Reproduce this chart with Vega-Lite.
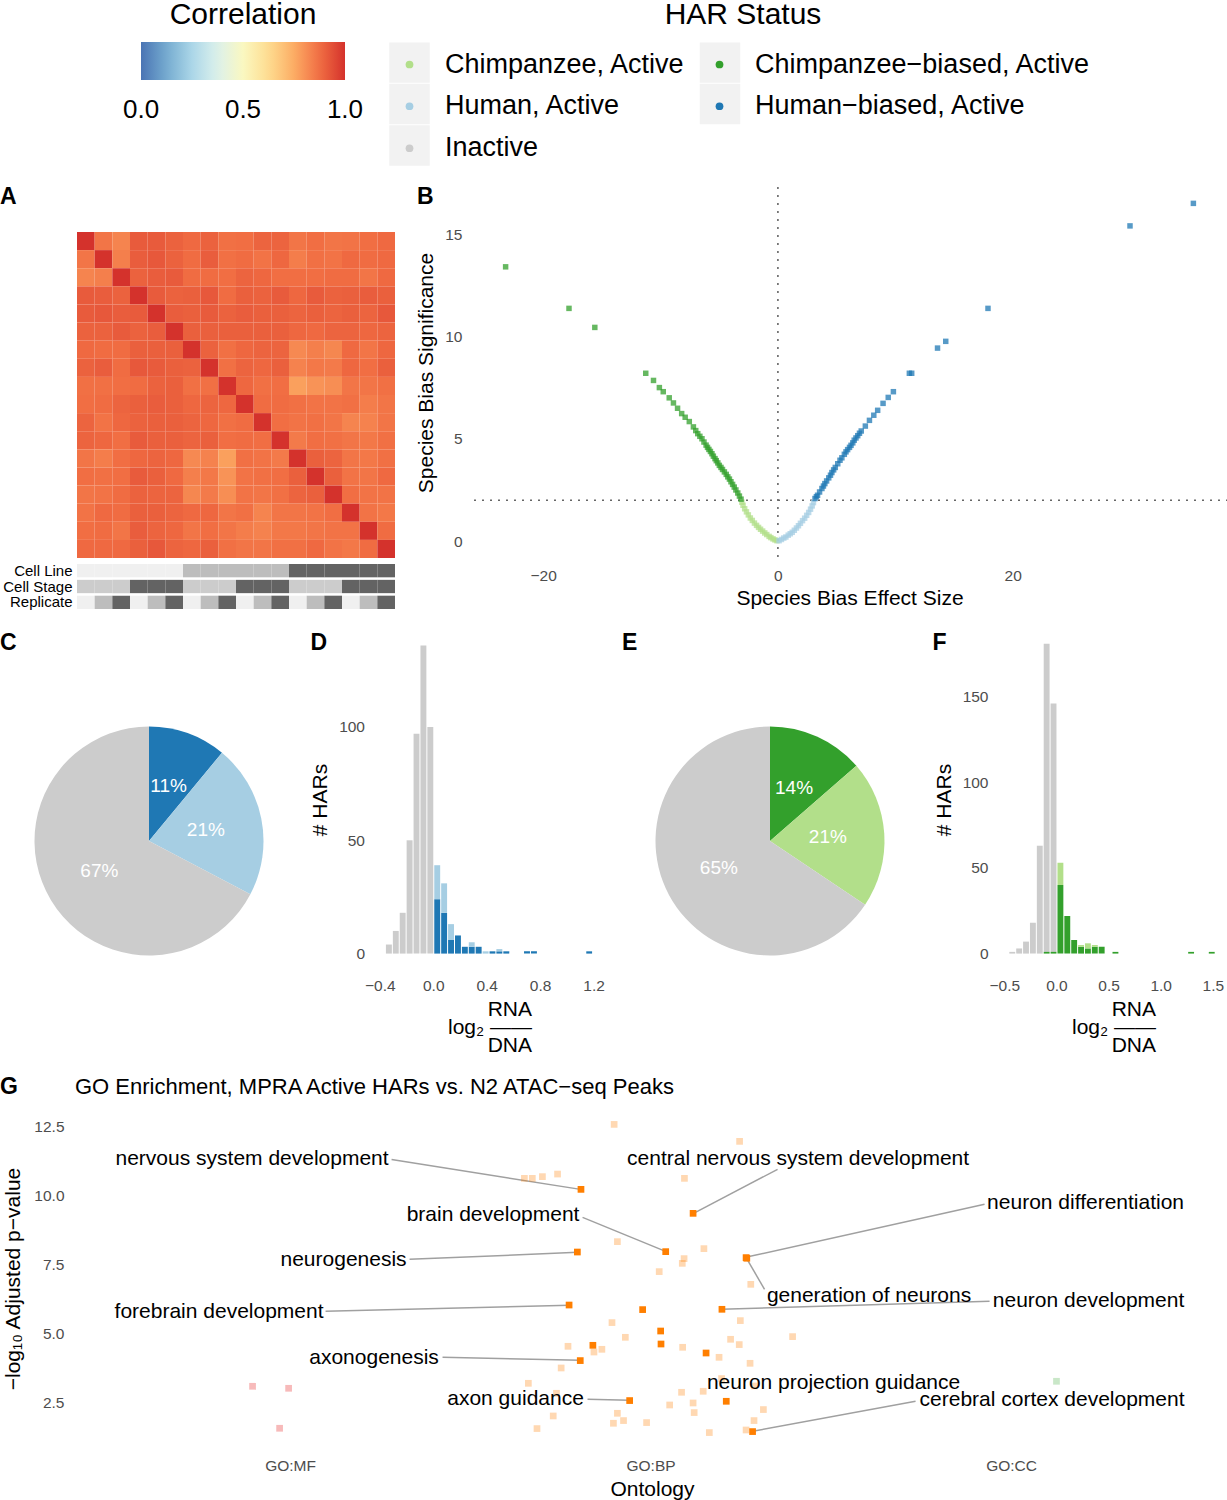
{
"$schema":"https://vega.github.io/schema/vega-lite/v6.json",
"padding":0,
"background":"white",
"spacing":20,
"config":{
 "view":{"stroke":null},
 "font":"Liberation Sans",
 "axis":{"grid":false,"domain":false,"ticks":false,"labelColor":"#4d4d4d","labelFontSize":15.5,"titleFontSize":21,"titleFontWeight":"normal","titleColor":"#000000"},
 "title":{"anchor":"start","frame":"group","offset":0,"fontSize":23,"fontWeight":"bold","color":"#000000"}
},
"resolve":{"scale":{"x":"independent","y":"independent","color":"independent","fill":"independent","opacity":"independent","theta":"independent"},"legend":{"color":"independent","fill":"independent"}},
"datasets":{
 "corr":[
{"r":0,"c":0,"v":1},{"r":0,"c":1,"v":0.86},{"r":0,"c":2,"v":0.83},{"r":0,"c":3,"v":0.915},{"r":0,"c":4,"v":0.915},{"r":0,"c":5,"v":0.9},{"r":0,"c":6,"v":0.885},{"r":0,"c":7,"v":0.9},{"r":0,"c":8,"v":0.87},{"r":0,"c":9,"v":0.875},{"r":0,"c":10,"v":0.895},{"r":0,"c":11,"v":0.895},{"r":0,"c":12,"v":0.86},{"r":0,"c":13,"v":0.875},{"r":0,"c":14,"v":0.86},{"r":0,"c":15,"v":0.865},{"r":0,"c":16,"v":0.875},{"r":0,"c":17,"v":0.885},
{"r":1,"c":0,"v":0.86},{"r":1,"c":1,"v":1},{"r":1,"c":2,"v":0.84},{"r":1,"c":3,"v":0.91},{"r":1,"c":4,"v":0.92},{"r":1,"c":5,"v":0.9},{"r":1,"c":6,"v":0.88},{"r":1,"c":7,"v":0.91},{"r":1,"c":8,"v":0.87},{"r":1,"c":9,"v":0.88},{"r":1,"c":10,"v":0.865},{"r":1,"c":11,"v":0.89},{"r":1,"c":12,"v":0.845},{"r":1,"c":13,"v":0.87},{"r":1,"c":14,"v":0.865},{"r":1,"c":15,"v":0.885},{"r":1,"c":16,"v":0.88},{"r":1,"c":17,"v":0.885},
{"r":2,"c":0,"v":0.83},{"r":2,"c":1,"v":0.84},{"r":2,"c":2,"v":1},{"r":2,"c":3,"v":0.9},{"r":2,"c":4,"v":0.91},{"r":2,"c":5,"v":0.915},{"r":2,"c":6,"v":0.88},{"r":2,"c":7,"v":0.88},{"r":2,"c":8,"v":0.875},{"r":2,"c":9,"v":0.895},{"r":2,"c":10,"v":0.89},{"r":2,"c":11,"v":0.875},{"r":2,"c":12,"v":0.875},{"r":2,"c":13,"v":0.875},{"r":2,"c":14,"v":0.88},{"r":2,"c":15,"v":0.88},{"r":2,"c":16,"v":0.86},{"r":2,"c":17,"v":0.885},
{"r":3,"c":0,"v":0.915},{"r":3,"c":1,"v":0.91},{"r":3,"c":2,"v":0.9},{"r":3,"c":3,"v":1},{"r":3,"c":4,"v":0.915},{"r":3,"c":5,"v":0.9},{"r":3,"c":6,"v":0.905},{"r":3,"c":7,"v":0.92},{"r":3,"c":8,"v":0.88},{"r":3,"c":9,"v":0.905},{"r":3,"c":10,"v":0.9},{"r":3,"c":11,"v":0.915},{"r":3,"c":12,"v":0.89},{"r":3,"c":13,"v":0.915},{"r":3,"c":14,"v":0.9},{"r":3,"c":15,"v":0.905},{"r":3,"c":16,"v":0.91},{"r":3,"c":17,"v":0.905},
{"r":4,"c":0,"v":0.915},{"r":4,"c":1,"v":0.92},{"r":4,"c":2,"v":0.91},{"r":4,"c":3,"v":0.915},{"r":4,"c":4,"v":1},{"r":4,"c":5,"v":0.91},{"r":4,"c":6,"v":0.905},{"r":4,"c":7,"v":0.915},{"r":4,"c":8,"v":0.9},{"r":4,"c":9,"v":0.91},{"r":4,"c":10,"v":0.905},{"r":4,"c":11,"v":0.905},{"r":4,"c":12,"v":0.895},{"r":4,"c":13,"v":0.905},{"r":4,"c":14,"v":0.895},{"r":4,"c":15,"v":0.905},{"r":4,"c":16,"v":0.895},{"r":4,"c":17,"v":0.92},
{"r":5,"c":0,"v":0.9},{"r":5,"c":1,"v":0.9},{"r":5,"c":2,"v":0.915},{"r":5,"c":3,"v":0.9},{"r":5,"c":4,"v":0.91},{"r":5,"c":5,"v":1},{"r":5,"c":6,"v":0.905},{"r":5,"c":7,"v":0.905},{"r":5,"c":8,"v":0.905},{"r":5,"c":9,"v":0.905},{"r":5,"c":10,"v":0.905},{"r":5,"c":11,"v":0.905},{"r":5,"c":12,"v":0.89},{"r":5,"c":13,"v":0.885},{"r":5,"c":14,"v":0.895},{"r":5,"c":15,"v":0.895},{"r":5,"c":16,"v":0.89},{"r":5,"c":17,"v":0.895},
{"r":6,"c":0,"v":0.885},{"r":6,"c":1,"v":0.88},{"r":6,"c":2,"v":0.88},{"r":6,"c":3,"v":0.905},{"r":6,"c":4,"v":0.905},{"r":6,"c":5,"v":0.905},{"r":6,"c":6,"v":1},{"r":6,"c":7,"v":0.9},{"r":6,"c":8,"v":0.87},{"r":6,"c":9,"v":0.89},{"r":6,"c":10,"v":0.895},{"r":6,"c":11,"v":0.895},{"r":6,"c":12,"v":0.82},{"r":6,"c":13,"v":0.84},{"r":6,"c":14,"v":0.825},{"r":6,"c":15,"v":0.885},{"r":6,"c":16,"v":0.86},{"r":6,"c":17,"v":0.89},
{"r":7,"c":0,"v":0.9},{"r":7,"c":1,"v":0.91},{"r":7,"c":2,"v":0.88},{"r":7,"c":3,"v":0.92},{"r":7,"c":4,"v":0.915},{"r":7,"c":5,"v":0.905},{"r":7,"c":6,"v":0.9},{"r":7,"c":7,"v":1},{"r":7,"c":8,"v":0.87},{"r":7,"c":9,"v":0.895},{"r":7,"c":10,"v":0.89},{"r":7,"c":11,"v":0.905},{"r":7,"c":12,"v":0.835},{"r":7,"c":13,"v":0.855},{"r":7,"c":14,"v":0.85},{"r":7,"c":15,"v":0.89},{"r":7,"c":16,"v":0.875},{"r":7,"c":17,"v":0.905},
{"r":8,"c":0,"v":0.87},{"r":8,"c":1,"v":0.87},{"r":8,"c":2,"v":0.875},{"r":8,"c":3,"v":0.88},{"r":8,"c":4,"v":0.9},{"r":8,"c":5,"v":0.905},{"r":8,"c":6,"v":0.87},{"r":8,"c":7,"v":0.87},{"r":8,"c":8,"v":1},{"r":8,"c":9,"v":0.89},{"r":8,"c":10,"v":0.87},{"r":8,"c":11,"v":0.875},{"r":8,"c":12,"v":0.775},{"r":8,"c":13,"v":0.8},{"r":8,"c":14,"v":0.81},{"r":8,"c":15,"v":0.86},{"r":8,"c":16,"v":0.86},{"r":8,"c":17,"v":0.87},
{"r":9,"c":0,"v":0.875},{"r":9,"c":1,"v":0.88},{"r":9,"c":2,"v":0.895},{"r":9,"c":3,"v":0.905},{"r":9,"c":4,"v":0.91},{"r":9,"c":5,"v":0.905},{"r":9,"c":6,"v":0.89},{"r":9,"c":7,"v":0.895},{"r":9,"c":8,"v":0.89},{"r":9,"c":9,"v":1},{"r":9,"c":10,"v":0.88},{"r":9,"c":11,"v":0.88},{"r":9,"c":12,"v":0.87},{"r":9,"c":13,"v":0.865},{"r":9,"c":14,"v":0.865},{"r":9,"c":15,"v":0.87},{"r":9,"c":16,"v":0.845},{"r":9,"c":17,"v":0.86},
{"r":10,"c":0,"v":0.895},{"r":10,"c":1,"v":0.865},{"r":10,"c":2,"v":0.89},{"r":10,"c":3,"v":0.9},{"r":10,"c":4,"v":0.905},{"r":10,"c":5,"v":0.905},{"r":10,"c":6,"v":0.895},{"r":10,"c":7,"v":0.89},{"r":10,"c":8,"v":0.87},{"r":10,"c":9,"v":0.88},{"r":10,"c":10,"v":1},{"r":10,"c":11,"v":0.875},{"r":10,"c":12,"v":0.865},{"r":10,"c":13,"v":0.87},{"r":10,"c":14,"v":0.86},{"r":10,"c":15,"v":0.83},{"r":10,"c":16,"v":0.835},{"r":10,"c":17,"v":0.86},
{"r":11,"c":0,"v":0.895},{"r":11,"c":1,"v":0.89},{"r":11,"c":2,"v":0.875},{"r":11,"c":3,"v":0.915},{"r":11,"c":4,"v":0.905},{"r":11,"c":5,"v":0.905},{"r":11,"c":6,"v":0.895},{"r":11,"c":7,"v":0.905},{"r":11,"c":8,"v":0.875},{"r":11,"c":9,"v":0.88},{"r":11,"c":10,"v":0.875},{"r":11,"c":11,"v":1},{"r":11,"c":12,"v":0.85},{"r":11,"c":13,"v":0.875},{"r":11,"c":14,"v":0.87},{"r":11,"c":15,"v":0.86},{"r":11,"c":16,"v":0.855},{"r":11,"c":17,"v":0.87},
{"r":12,"c":0,"v":0.86},{"r":12,"c":1,"v":0.845},{"r":12,"c":2,"v":0.875},{"r":12,"c":3,"v":0.89},{"r":12,"c":4,"v":0.895},{"r":12,"c":5,"v":0.89},{"r":12,"c":6,"v":0.82},{"r":12,"c":7,"v":0.835},{"r":12,"c":8,"v":0.775},{"r":12,"c":9,"v":0.87},{"r":12,"c":10,"v":0.865},{"r":12,"c":11,"v":0.85},{"r":12,"c":12,"v":1},{"r":12,"c":13,"v":0.905},{"r":12,"c":14,"v":0.895},{"r":12,"c":15,"v":0.86},{"r":12,"c":16,"v":0.855},{"r":12,"c":17,"v":0.87},
{"r":13,"c":0,"v":0.875},{"r":13,"c":1,"v":0.87},{"r":13,"c":2,"v":0.875},{"r":13,"c":3,"v":0.915},{"r":13,"c":4,"v":0.905},{"r":13,"c":5,"v":0.885},{"r":13,"c":6,"v":0.84},{"r":13,"c":7,"v":0.855},{"r":13,"c":8,"v":0.8},{"r":13,"c":9,"v":0.865},{"r":13,"c":10,"v":0.87},{"r":13,"c":11,"v":0.875},{"r":13,"c":12,"v":0.905},{"r":13,"c":13,"v":1},{"r":13,"c":14,"v":0.905},{"r":13,"c":15,"v":0.865},{"r":13,"c":16,"v":0.86},{"r":13,"c":17,"v":0.885},
{"r":14,"c":0,"v":0.86},{"r":14,"c":1,"v":0.865},{"r":14,"c":2,"v":0.88},{"r":14,"c":3,"v":0.9},{"r":14,"c":4,"v":0.895},{"r":14,"c":5,"v":0.895},{"r":14,"c":6,"v":0.825},{"r":14,"c":7,"v":0.85},{"r":14,"c":8,"v":0.81},{"r":14,"c":9,"v":0.865},{"r":14,"c":10,"v":0.86},{"r":14,"c":11,"v":0.87},{"r":14,"c":12,"v":0.895},{"r":14,"c":13,"v":0.905},{"r":14,"c":14,"v":1},{"r":14,"c":15,"v":0.875},{"r":14,"c":16,"v":0.865},{"r":14,"c":17,"v":0.865},
{"r":15,"c":0,"v":0.865},{"r":15,"c":1,"v":0.885},{"r":15,"c":2,"v":0.88},{"r":15,"c":3,"v":0.905},{"r":15,"c":4,"v":0.905},{"r":15,"c":5,"v":0.895},{"r":15,"c":6,"v":0.885},{"r":15,"c":7,"v":0.89},{"r":15,"c":8,"v":0.86},{"r":15,"c":9,"v":0.87},{"r":15,"c":10,"v":0.83},{"r":15,"c":11,"v":0.86},{"r":15,"c":12,"v":0.86},{"r":15,"c":13,"v":0.865},{"r":15,"c":14,"v":0.875},{"r":15,"c":15,"v":1},{"r":15,"c":16,"v":0.865},{"r":15,"c":17,"v":0.855},
{"r":16,"c":0,"v":0.875},{"r":16,"c":1,"v":0.88},{"r":16,"c":2,"v":0.86},{"r":16,"c":3,"v":0.91},{"r":16,"c":4,"v":0.895},{"r":16,"c":5,"v":0.89},{"r":16,"c":6,"v":0.86},{"r":16,"c":7,"v":0.875},{"r":16,"c":8,"v":0.86},{"r":16,"c":9,"v":0.845},{"r":16,"c":10,"v":0.835},{"r":16,"c":11,"v":0.855},{"r":16,"c":12,"v":0.855},{"r":16,"c":13,"v":0.86},{"r":16,"c":14,"v":0.865},{"r":16,"c":15,"v":0.865},{"r":16,"c":16,"v":1},{"r":16,"c":17,"v":0.88},
{"r":17,"c":0,"v":0.885},{"r":17,"c":1,"v":0.885},{"r":17,"c":2,"v":0.885},{"r":17,"c":3,"v":0.905},{"r":17,"c":4,"v":0.92},{"r":17,"c":5,"v":0.895},{"r":17,"c":6,"v":0.89},{"r":17,"c":7,"v":0.905},{"r":17,"c":8,"v":0.87},{"r":17,"c":9,"v":0.86},{"r":17,"c":10,"v":0.86},{"r":17,"c":11,"v":0.87},{"r":17,"c":12,"v":0.87},{"r":17,"c":13,"v":0.885},{"r":17,"c":14,"v":0.865},{"r":17,"c":15,"v":0.855},{"r":17,"c":16,"v":0.88},{"r":17,"c":17,"v":1}
 ],
 "annot":[
{"track":"Cell Line","c":0,"level":"CL1"},{"track":"Cell Line","c":1,"level":"CL1"},{"track":"Cell Line","c":2,"level":"CL1"},{"track":"Cell Line","c":3,"level":"CL1"},{"track":"Cell Line","c":4,"level":"CL1"},{"track":"Cell Line","c":5,"level":"CL1"},{"track":"Cell Line","c":6,"level":"CL2"},{"track":"Cell Line","c":7,"level":"CL2"},{"track":"Cell Line","c":8,"level":"CL2"},{"track":"Cell Line","c":9,"level":"CL2"},{"track":"Cell Line","c":10,"level":"CL2"},{"track":"Cell Line","c":11,"level":"CL2"},{"track":"Cell Line","c":12,"level":"CL3"},{"track":"Cell Line","c":13,"level":"CL3"},{"track":"Cell Line","c":14,"level":"CL3"},{"track":"Cell Line","c":15,"level":"CL3"},{"track":"Cell Line","c":16,"level":"CL3"},{"track":"Cell Line","c":17,"level":"CL3"},
{"track":"Cell Stage","c":0,"level":"ST1"},{"track":"Cell Stage","c":1,"level":"ST1"},{"track":"Cell Stage","c":2,"level":"ST1"},{"track":"Cell Stage","c":3,"level":"ST2"},{"track":"Cell Stage","c":4,"level":"ST2"},{"track":"Cell Stage","c":5,"level":"ST2"},{"track":"Cell Stage","c":6,"level":"ST1"},{"track":"Cell Stage","c":7,"level":"ST1"},{"track":"Cell Stage","c":8,"level":"ST1"},{"track":"Cell Stage","c":9,"level":"ST2"},{"track":"Cell Stage","c":10,"level":"ST2"},{"track":"Cell Stage","c":11,"level":"ST2"},{"track":"Cell Stage","c":12,"level":"ST1"},{"track":"Cell Stage","c":13,"level":"ST1"},{"track":"Cell Stage","c":14,"level":"ST1"},{"track":"Cell Stage","c":15,"level":"ST2"},{"track":"Cell Stage","c":16,"level":"ST2"},{"track":"Cell Stage","c":17,"level":"ST2"},
{"track":"Replicate","c":0,"level":"RP1"},{"track":"Replicate","c":1,"level":"RP2"},{"track":"Replicate","c":2,"level":"RP3"},{"track":"Replicate","c":3,"level":"RP1"},{"track":"Replicate","c":4,"level":"RP2"},{"track":"Replicate","c":5,"level":"RP3"},{"track":"Replicate","c":6,"level":"RP1"},{"track":"Replicate","c":7,"level":"RP2"},{"track":"Replicate","c":8,"level":"RP3"},{"track":"Replicate","c":9,"level":"RP1"},{"track":"Replicate","c":10,"level":"RP2"},{"track":"Replicate","c":11,"level":"RP3"},{"track":"Replicate","c":12,"level":"RP1"},{"track":"Replicate","c":13,"level":"RP2"},{"track":"Replicate","c":14,"level":"RP3"},{"track":"Replicate","c":15,"level":"RP1"},{"track":"Replicate","c":16,"level":"RP2"},{"track":"Replicate","c":17,"level":"RP3"}
 ],
 "volcano":[
{"effect":-0.08,"signif":0.02,"status":"Chimpanzee, Active"},{"effect":-0.25,"signif":0.06,"status":"Chimpanzee, Active"},{"effect":-0.42,"signif":0.11,"status":"Chimpanzee, Active"},{"effect":-0.6,"signif":0.17,"status":"Chimpanzee, Active"},{"effect":-0.75,"signif":0.23,"status":"Chimpanzee, Active"},{"effect":-0.95,"signif":0.32,"status":"Chimpanzee, Active"},{"effect":-1.12,"signif":0.4,"status":"Chimpanzee, Active"},{"effect":-1.3,"signif":0.49,"status":"Chimpanzee, Active"},{"effect":-1.48,"signif":0.58,"status":"Chimpanzee, Active"},{"effect":-1.65,"signif":0.67,"status":"Chimpanzee, Active"},{"effect":-1.82,"signif":0.77,"status":"Chimpanzee, Active"},{"effect":-2.0,"signif":0.88,"status":"Chimpanzee, Active"},{"effect":-2.18,"signif":1.01,"status":"Chimpanzee, Active"},{"effect":-2.35,"signif":1.13,"status":"Chimpanzee, Active"},{"effect":-2.52,"signif":1.28,"status":"Chimpanzee, Active"},{"effect":-2.68,"signif":1.43,"status":"Chimpanzee, Active"},{"effect":-2.83,"signif":1.58,"status":"Chimpanzee, Active"},{"effect":-2.97,"signif":1.75,"status":"Chimpanzee, Active"},{"effect":-3.07,"signif":1.9,"status":"Chimpanzee, Active"},
{"effect":-3.14,"signif":2.05,"status":"Chimpanzee−biased, Active"},{"effect":-3.28,"signif":2.2,"status":"Chimpanzee−biased, Active"},{"effect":-3.42,"signif":2.35,"status":"Chimpanzee−biased, Active"},{"effect":-3.58,"signif":2.5,"status":"Chimpanzee−biased, Active"},{"effect":-3.72,"signif":2.64,"status":"Chimpanzee−biased, Active"},{"effect":-3.86,"signif":2.77,"status":"Chimpanzee−biased, Active"},{"effect":-4.0,"signif":2.9,"status":"Chimpanzee−biased, Active"},{"effect":-4.13,"signif":3.03,"status":"Chimpanzee−biased, Active"},{"effect":-4.27,"signif":3.14,"status":"Chimpanzee−biased, Active"},{"effect":-4.4,"signif":3.26,"status":"Chimpanzee−biased, Active"},{"effect":-4.56,"signif":3.38,"status":"Chimpanzee−biased, Active"},{"effect":-4.72,"signif":3.5,"status":"Chimpanzee−biased, Active"},{"effect":-4.85,"signif":3.6,"status":"Chimpanzee−biased, Active"},{"effect":-4.99,"signif":3.7,"status":"Chimpanzee−biased, Active"},{"effect":-5.12,"signif":3.82,"status":"Chimpanzee−biased, Active"},{"effect":-5.25,"signif":3.93,"status":"Chimpanzee−biased, Active"},{"effect":-5.36,"signif":4.03,"status":"Chimpanzee−biased, Active"},{"effect":-5.5,"signif":4.15,"status":"Chimpanzee−biased, Active"},{"effect":-5.62,"signif":4.27,"status":"Chimpanzee−biased, Active"},{"effect":-5.75,"signif":4.38,"status":"Chimpanzee−biased, Active"},{"effect":-5.88,"signif":4.48,"status":"Chimpanzee−biased, Active"},{"effect":-6.0,"signif":4.58,"status":"Chimpanzee−biased, Active"},{"effect":-6.12,"signif":4.69,"status":"Chimpanzee−biased, Active"},{"effect":-6.3,"signif":4.84,"status":"Chimpanzee−biased, Active"},{"effect":-6.47,"signif":5.0,"status":"Chimpanzee−biased, Active"},{"effect":-6.65,"signif":5.12,"status":"Chimpanzee−biased, Active"},{"effect":-6.83,"signif":5.25,"status":"Chimpanzee−biased, Active"},{"effect":-7.0,"signif":5.4,"status":"Chimpanzee−biased, Active"},{"effect":-7.2,"signif":5.58,"status":"Chimpanzee−biased, Active"},{"effect":-7.55,"signif":5.84,"status":"Chimpanzee−biased, Active"},{"effect":-7.9,"signif":6.05,"status":"Chimpanzee−biased, Active"},{"effect":-8.2,"signif":6.23,"status":"Chimpanzee−biased, Active"},{"effect":-8.55,"signif":6.49,"status":"Chimpanzee−biased, Active"},{"effect":-8.9,"signif":6.75,"status":"Chimpanzee−biased, Active"},{"effect":-9.26,"signif":7.0,"status":"Chimpanzee−biased, Active"},{"effect":-9.77,"signif":7.3,"status":"Chimpanzee−biased, Active"},{"effect":-10.1,"signif":7.5,"status":"Chimpanzee−biased, Active"},{"effect":-10.6,"signif":7.85,"status":"Chimpanzee−biased, Active"},{"effect":-11.26,"signif":8.2,"status":"Chimpanzee−biased, Active"},{"effect":-15.6,"signif":10.44,"status":"Chimpanzee−biased, Active"},{"effect":-17.8,"signif":11.37,"status":"Chimpanzee−biased, Active"},{"effect":-23.2,"signif":13.4,"status":"Chimpanzee−biased, Active"},
{"effect":0.1,"signif":0.02,"status":"Human, Active"},{"effect":0.3,"signif":0.08,"status":"Human, Active"},{"effect":0.5,"signif":0.15,"status":"Human, Active"},{"effect":0.68,"signif":0.2,"status":"Human, Active"},{"effect":0.88,"signif":0.29,"status":"Human, Active"},{"effect":1.05,"signif":0.36,"status":"Human, Active"},{"effect":1.22,"signif":0.43,"status":"Human, Active"},{"effect":1.4,"signif":0.53,"status":"Human, Active"},{"effect":1.58,"signif":0.64,"status":"Human, Active"},{"effect":1.75,"signif":0.75,"status":"Human, Active"},{"effect":1.92,"signif":0.87,"status":"Human, Active"},{"effect":2.1,"signif":1.0,"status":"Human, Active"},{"effect":2.28,"signif":1.12,"status":"Human, Active"},{"effect":2.45,"signif":1.26,"status":"Human, Active"},{"effect":2.62,"signif":1.4,"status":"Human, Active"},{"effect":2.78,"signif":1.56,"status":"Human, Active"},{"effect":2.92,"signif":1.72,"status":"Human, Active"},{"effect":3.03,"signif":1.88,"status":"Human, Active"},
{"effect":3.16,"signif":2.08,"status":"Human−biased, Active"},{"effect":3.28,"signif":2.17,"status":"Human−biased, Active"},{"effect":3.38,"signif":2.24,"status":"Human−biased, Active"},{"effect":3.55,"signif":2.4,"status":"Human−biased, Active"},{"effect":3.75,"signif":2.57,"status":"Human−biased, Active"},{"effect":3.88,"signif":2.69,"status":"Human−biased, Active"},{"effect":4.0,"signif":2.81,"status":"Human−biased, Active"},{"effect":4.15,"signif":2.94,"status":"Human−biased, Active"},{"effect":4.33,"signif":3.09,"status":"Human−biased, Active"},{"effect":4.48,"signif":3.22,"status":"Human−biased, Active"},{"effect":4.6,"signif":3.35,"status":"Human−biased, Active"},{"effect":4.75,"signif":3.48,"status":"Human−biased, Active"},{"effect":4.89,"signif":3.6,"status":"Human−biased, Active"},{"effect":5.1,"signif":3.78,"status":"Human−biased, Active"},{"effect":5.29,"signif":3.95,"status":"Human−biased, Active"},{"effect":5.45,"signif":4.07,"status":"Human−biased, Active"},{"effect":5.66,"signif":4.24,"status":"Human−biased, Active"},{"effect":5.8,"signif":4.36,"status":"Human−biased, Active"},{"effect":5.94,"signif":4.47,"status":"Human−biased, Active"},{"effect":6.1,"signif":4.58,"status":"Human−biased, Active"},{"effect":6.23,"signif":4.68,"status":"Human−biased, Active"},{"effect":6.38,"signif":4.8,"status":"Human−biased, Active"},{"effect":6.5,"signif":4.93,"status":"Human−biased, Active"},{"effect":6.65,"signif":5.04,"status":"Human−biased, Active"},{"effect":6.8,"signif":5.15,"status":"Human−biased, Active"},{"effect":6.95,"signif":5.27,"status":"Human−biased, Active"},{"effect":7.1,"signif":5.38,"status":"Human−biased, Active"},{"effect":7.45,"signif":5.62,"status":"Human−biased, Active"},{"effect":7.8,"signif":5.9,"status":"Human−biased, Active"},{"effect":8.17,"signif":6.15,"status":"Human−biased, Active"},{"effect":8.5,"signif":6.39,"status":"Human−biased, Active"},{"effect":8.96,"signif":6.73,"status":"Human−biased, Active"},{"effect":9.4,"signif":7.02,"status":"Human−biased, Active"},{"effect":9.84,"signif":7.3,"status":"Human−biased, Active"},{"effect":11.2,"signif":8.2,"status":"Human−biased, Active"},{"effect":11.4,"signif":8.2,"status":"Human−biased, Active"},{"effect":13.6,"signif":9.43,"status":"Human−biased, Active"},{"effect":14.3,"signif":9.76,"status":"Human−biased, Active"},{"effect":17.9,"signif":11.37,"status":"Human−biased, Active"},{"effect":30.0,"signif":15.4,"status":"Human−biased, Active"},{"effect":35.4,"signif":16.5,"status":"Human−biased, Active"}
 ],
 "histD":[
{"x0":-0.362,"x1":-0.31,"status":"Inactive","n":4},{"x0":-0.31,"x1":-0.2585,"status":"Inactive","n":10},{"x0":-0.2585,"x1":-0.207,"status":"Inactive","n":18},{"x0":-0.207,"x1":-0.155,"status":"Inactive","n":50},{"x0":-0.155,"x1":-0.1034,"status":"Inactive","n":97},{"x0":-0.1034,"x1":-0.0517,"status":"Inactive","n":136},{"x0":-0.0517,"x1":0,"status":"Inactive","n":100},
{"x0":0,"x1":0.0517,"status":"Human−biased, Active","n":24},{"x0":0.0517,"x1":0.1034,"status":"Human−biased, Active","n":18},{"x0":0.1034,"x1":0.155,"status":"Human−biased, Active","n":6},{"x0":0.155,"x1":0.207,"status":"Human−biased, Active","n":8},{"x0":0.207,"x1":0.2585,"status":"Human−biased, Active","n":3},{"x0":0.2585,"x1":0.31,"status":"Human−biased, Active","n":3},{"x0":0.31,"x1":0.362,"status":"Human−biased, Active","n":3},{"x0":0.414,"x1":0.465,"status":"Human−biased, Active","n":1},{"x0":0.465,"x1":0.517,"status":"Human−biased, Active","n":1},{"x0":0.517,"x1":0.569,"status":"Human−biased, Active","n":1},{"x0":0.672,"x1":0.724,"status":"Human−biased, Active","n":1},{"x0":0.724,"x1":0.776,"status":"Human−biased, Active","n":1},{"x0":1.138,"x1":1.189,"status":"Human−biased, Active","n":1},
{"x0":0,"x1":0.0517,"status":"Human, Active","n":15},{"x0":0.0517,"x1":0.1034,"status":"Human, Active","n":13},{"x0":0.1034,"x1":0.155,"status":"Human, Active","n":7},{"x0":0.2585,"x1":0.31,"status":"Human, Active","n":2},{"x0":0.362,"x1":0.414,"status":"Human, Active","n":1},{"x0":0.465,"x1":0.517,"status":"Human, Active","n":1}
 ],
 "histF":[
{"x0":-0.462,"x1":-0.396,"status":"Inactive","n":1},{"x0":-0.396,"x1":-0.33,"status":"Inactive","n":3},{"x0":-0.33,"x1":-0.264,"status":"Inactive","n":7},{"x0":-0.264,"x1":-0.198,"status":"Inactive","n":18},{"x0":-0.198,"x1":-0.132,"status":"Inactive","n":63},{"x0":-0.132,"x1":-0.066,"status":"Inactive","n":180},{"x0":-0.066,"x1":0,"status":"Inactive","n":145},
{"x0":-0.132,"x1":-0.066,"status":"Chimpanzee−biased, Active","n":1},{"x0":-0.066,"x1":0,"status":"Chimpanzee−biased, Active","n":1},{"x0":0,"x1":0.066,"status":"Chimpanzee−biased, Active","n":40},{"x0":0.066,"x1":0.132,"status":"Chimpanzee−biased, Active","n":22},{"x0":0.132,"x1":0.198,"status":"Chimpanzee−biased, Active","n":8},{"x0":0.198,"x1":0.264,"status":"Chimpanzee−biased, Active","n":4},{"x0":0.264,"x1":0.33,"status":"Chimpanzee−biased, Active","n":3},{"x0":0.33,"x1":0.396,"status":"Chimpanzee−biased, Active","n":4},{"x0":0.396,"x1":0.462,"status":"Chimpanzee−biased, Active","n":4},{"x0":0.528,"x1":0.594,"status":"Chimpanzee−biased, Active","n":1},{"x0":1.254,"x1":1.32,"status":"Chimpanzee−biased, Active","n":1},{"x0":1.452,"x1":1.518,"status":"Chimpanzee−biased, Active","n":1},
{"x0":0,"x1":0.066,"status":"Chimpanzee, Active","n":13},{"x0":0.198,"x1":0.264,"status":"Chimpanzee, Active","n":1},{"x0":0.264,"x1":0.33,"status":"Chimpanzee, Active","n":3},{"x0":0.33,"x1":0.396,"status":"Chimpanzee, Active","n":1}
 ],
 "goTerms":[
{"u":0.896,"v":3.08,"ont":"GO:MF","hl":"no"},{"u":0.996,"v":3.007,"ont":"GO:MF","hl":"no"},{"u":0.971,"v":1.558,"ont":"GO:MF","hl":"no"},
{"u":3.126,"v":3.261,"ont":"GO:CC","hl":"no"},
{"u":1.899,"v":12.572,"ont":"GO:BP","hl":"no"},{"u":2.247,"v":11.957,"ont":"GO:BP","hl":"no"},{"u":1.65,"v":10.616,"ont":"GO:BP","hl":"no"},{"u":1.672,"v":10.616,"ont":"GO:BP","hl":"no"},{"u":1.7,"v":10.678,"ont":"GO:BP","hl":"no"},{"u":1.742,"v":10.772,"ont":"GO:BP","hl":"no"},{"u":2.094,"v":10.616,"ont":"GO:BP","hl":"no"},{"u":1.908,"v":8.322,"ont":"GO:BP","hl":"no"},{"u":2.148,"v":8.069,"ont":"GO:BP","hl":"no"},{"u":2.093,"v":7.707,"ont":"GO:BP","hl":"no"},{"u":2.088,"v":7.536,"ont":"GO:BP","hl":"no"},{"u":2.024,"v":7.236,"ont":"GO:BP","hl":"no"},{"u":2.278,"v":6.775,"ont":"GO:BP","hl":"no"},{"u":1.893,"v":5.388,"ont":"GO:BP","hl":"no"},{"u":2.249,"v":5.46,"ont":"GO:BP","hl":"no"},{"u":1.771,"v":4.529,"ont":"GO:BP","hl":"no"},{"u":1.843,"v":4.322,"ont":"GO:BP","hl":"no"},{"u":1.865,"v":4.42,"ont":"GO:BP","hl":"no"},{"u":1.93,"v":4.855,"ont":"GO:BP","hl":"no"},{"u":2.222,"v":4.783,"ont":"GO:BP","hl":"no"},{"u":2.394,"v":4.88,"ont":"GO:BP","hl":"no"},{"u":2.089,"v":4.493,"ont":"GO:BP","hl":"no"},{"u":2.246,"v":4.591,"ont":"GO:BP","hl":"no"},{"u":2.19,"v":4.13,"ont":"GO:BP","hl":"no"},{"u":2.276,"v":3.913,"ont":"GO:BP","hl":"no"},{"u":1.752,"v":3.743,"ont":"GO:BP","hl":"no"},{"u":1.661,"v":3.188,"ont":"GO:BP","hl":"no"},{"u":2.197,"v":3.359,"ont":"GO:BP","hl":"no"},{"u":2.288,"v":3.091,"ont":"GO:BP","hl":"no"},{"u":1.739,"v":2.826,"ont":"GO:BP","hl":"no"},{"u":2.086,"v":2.862,"ont":"GO:BP","hl":"no"},{"u":2.146,"v":2.899,"ont":"GO:BP","hl":"no"},{"u":1.73,"v":2.004,"ont":"GO:BP","hl":"no"},{"u":1.908,"v":2.101,"ont":"GO:BP","hl":"no"},{"u":1.897,"v":1.739,"ont":"GO:BP","hl":"no"},{"u":2.053,"v":2.402,"ont":"GO:BP","hl":"no"},{"u":2.118,"v":2.475,"ont":"GO:BP","hl":"no"},{"u":2.313,"v":2.236,"ont":"GO:BP","hl":"no"},{"u":2.121,"v":2.127,"ont":"GO:BP","hl":"no"},{"u":1.925,"v":1.837,"ont":"GO:BP","hl":"no"},{"u":1.989,"v":1.764,"ont":"GO:BP","hl":"no"},{"u":2.287,"v":1.837,"ont":"GO:BP","hl":"no"},{"u":1.685,"v":1.547,"ont":"GO:BP","hl":"no"},{"u":2.163,"v":1.402,"ont":"GO:BP","hl":"no"},{"u":2.265,"v":1.496,"ont":"GO:BP","hl":"no"},
{"u":1.807,"v":10.217,"ont":"GO:BP","hl":"yes"},{"u":1.797,"v":7.946,"ont":"GO:BP","hl":"yes"},{"u":1.774,"v":6.025,"ont":"GO:BP","hl":"yes"},{"u":1.84,"v":4.565,"ont":"GO:BP","hl":"yes"},{"u":1.805,"v":4.011,"ont":"GO:BP","hl":"yes"},{"u":2.118,"v":9.348,"ont":"GO:BP","hl":"yes"},{"u":2.042,"v":7.96,"ont":"GO:BP","hl":"yes"},{"u":2.265,"v":7.743,"ont":"GO:BP","hl":"yes"},{"u":2.267,"v":7.72,"ont":"GO:BP","hl":"yes"},{"u":1.978,"v":5.859,"ont":"GO:BP","hl":"yes"},{"u":2.198,"v":5.87,"ont":"GO:BP","hl":"yes"},{"u":2.028,"v":5.083,"ont":"GO:BP","hl":"yes"},{"u":2.029,"v":4.612,"ont":"GO:BP","hl":"yes"},{"u":2.154,"v":4.286,"ont":"GO:BP","hl":"yes"},{"u":1.942,"v":2.562,"ont":"GO:BP","hl":"yes"},{"u":2.21,"v":2.536,"ont":"GO:BP","hl":"yes"},{"u":2.283,"v":1.438,"ont":"GO:BP","hl":"yes"}
 ],
 "goSegs":[
{"u":1.2816,"v":11.3,"u2":1.8058,"v2":10.217},{"u":2.3523,"v":10.942,"u2":2.1193,"v2":9.348},{"u":2.9265,"v":9.674,"u2":2.2635,"v2":7.754},{"u":1.8114,"v":9.203,"u2":2.0416,"v2":7.971},{"u":1.3315,"v":7.681,"u2":1.7975,"v2":7.935},{"u":2.3162,"v":6.594,"u2":2.2663,"v2":7.717},{"u":2.9404,"v":6.159,"u2":2.197,"v2":5.87},{"u":1.0985,"v":5.797,"u2":1.7753,"v2":6.014},{"u":1.423,"v":4.13,"u2":1.8058,"v2":4.022},{"u":1.8252,"v":2.609,"u2":1.9417,"v2":2.572},{"u":2.7351,"v":2.536,"u2":2.2829,"v2":1.449}
 ],
 "goLabels":[
{"u":0.8946,"v":11.3,"term":"nervous system development"},{"u":2.4092,"v":11.3,"term":"central nervous system development"},{"u":3.2067,"v":9.71,"term":"neuron differentiation"},{"u":1.5631,"v":9.275,"term":"brain development"},{"u":1.1484,"v":7.645,"term":"neurogenesis"},{"u":2.6061,"v":6.34,"term":"generation of neurons"},{"u":3.215,"v":6.16,"term":"neuron development"},{"u":0.803,"v":5.76,"term":"forebrain development"},{"u":1.233,"v":4.094,"term":"axonogenesis"},{"u":2.5076,"v":3.188,"term":"neuron projection guidance"},{"u":1.6255,"v":2.609,"term":"axon guidance"},{"u":3.1137,"v":2.572,"term":"cerebral cortex development"}
 ],
 "legendKeys":[{"key":"k1"},{"key":"k2"},{"key":"k3"},{"key":"k4"},{"key":"k5"}]
},
"vconcat":[
 {"vconcat":[
   {"hconcat":[
     {"width":318,"height":422,
      "title":{"text":"A","dx":-77,"dy":213},
      "layer":[
       {"data":{"name":"corr"},"mark":{"type":"rect"},
        "encoding":{
         "x":{"field":"c","type":"ordinal","axis":null,"scale":{"paddingInner":0,"paddingOuter":0}},
         "y":{"field":"r","type":"ordinal","axis":null,"scale":{"range":[45,371],"paddingInner":0,"paddingOuter":0}},
         "color":{"field":"v","type":"quantitative","scale":{"domain":[0,1],"scheme":{"name":"redyellowblue","extent":[0.9,0.1]}},
           "legend":{"orient":"none","legendX":64,"legendY":-187,"direction":"horizontal","gradientLength":204,"gradientThickness":38,"title":"Correlation","titleFontSize":30,"titleFontWeight":"normal","titleColor":"#000000","titleAnchor":"middle","titlePadding":12,"labelFontSize":26,"labelColor":"#000000","labelOffset":17,"values":[0.0001,0.5,0.9999],"format":".1f","padding":0,"gradientStrokeWidth":0}}
        }},
       {"data":{"name":"annot"},"mark":{"type":"rect"},
        "encoding":{
         "x":{"field":"c","type":"ordinal","axis":null,"scale":{"paddingInner":0,"paddingOuter":0}},
         "y":{"field":"track","type":"nominal","sort":["Cell Line","Cell Stage","Replicate"],"scale":{"range":[377,422],"paddingInner":0.16,"paddingOuter":0},"axis":{"orient":"left","title":null,"labelColor":"#000000","labelFontSize":15,"labelPadding":5}},
         "color":{"field":"level","type":"nominal","scale":{"domain":["CL1","CL2","CL3","ST1","ST2","RP1","RP2","RP3"],"range":["#f0f0f0","#bdbdbd","#636363","#cccccc","#636363","#f0f0f0","#bdbdbd","#636363"]},"legend":null}
        }}
      ],
      "resolve":{"scale":{"y":"independent","color":"independent"},"axis":{"y":"independent"},"legend":{"color":"independent"}}},
     {"width":757,"height":371,
      "title":{"text":"B","dx":-54,"dy":213},
      "layer":[
       {"data":{"name":"legendKeys"},"mark":{"type":"square","opacity":0},
        "encoding":{"fill":{"field":"key","type":"nominal","scale":{"domain":["k1","k2","k3","k4","k5"],"range":["#f2f2f2","#f2f2f2","#f2f2f2","#f2f2f2","#f2f2f2"]},
          "legend":{"orient":"none","legendX":-82,"legendY":-145,"title":null,"labelExpr":"''","labelFontSize":1,"labelOffset":0,"columns":2,"columnPadding":269.5,"rowPadding":0.5,"symbolType":"square","symbolSize":1640,"symbolOpacity":1,"symbolStrokeWidth":0,"padding":0}}}},
       {"data":{"values":[{"effect":0}]},"mark":{"type":"rule","strokeDash":[2,6],"color":"#666666","strokeWidth":1.6},
        "encoding":{"x":{"field":"effect","type":"quantitative","scale":{"domain":[-26.15,38.35],"nice":false,"zero":false},"axis":{"values":[-20,0,20],"title":"Species Bias Effect Size","labelPadding":10,"titlePadding":4}}}},
       {"data":{"values":[{"signif":2}]},"mark":{"type":"rule","strokeDash":[2,6],"color":"#666666","strokeWidth":1.6},
        "encoding":{"y":{"field":"signif","type":"quantitative","scale":{"domain":[-0.825,17.3],"nice":false,"zero":false},"axis":{"values":[0,5,10,15],"title":"Species Bias Significance","labelPadding":9,"titlePadding":8}}}},
       {"data":{"name":"volcano"},"mark":{"type":"square","size":30,"opacity":0.75},
        "encoding":{
         "x":{"field":"effect","type":"quantitative","scale":{"domain":[-26.15,38.35],"nice":false,"zero":false},"axis":{"values":[-20,0,20],"title":"Species Bias Effect Size","labelPadding":10,"titlePadding":4}},
         "y":{"field":"signif","type":"quantitative","scale":{"domain":[-0.825,17.3],"nice":false,"zero":false},"axis":{"values":[0,5,10,15],"title":"Species Bias Significance","labelPadding":9,"titlePadding":8}},
         "color":{"field":"status","type":"nominal","scale":{"domain":["Chimpanzee, Active","Human, Active","Inactive","Chimpanzee−biased, Active","Human−biased, Active"],"range":["#b2df8a","#a6cee3","#cccccc","#33a02c","#1f78b4"]},
           "legend":{"orient":"none","legendX":-75,"legendY":-187,"title":"HAR Status","titleFontSize":30,"titleFontWeight":"normal","titleColor":"#000000","titleAnchor":"middle","titlePadding":20.75,"labelFontSize":27,"labelColor":"#000000","labelLimit":0,"labelOffset":22,"columns":2,"columnPadding":20,"rowPadding":14,"symbolType":"circle","symbolSize":60,"symbolOpacity":1,"symbolStrokeWidth":0,"padding":0}}
        }}
      ],
      "resolve":{"scale":{"fill":"independent","color":"independent"},"legend":{"fill":"independent","color":"independent"}}}
   ],"spacing":-7,"resolve":{"scale":{"x":"independent","y":"independent","color":"independent","fill":"independent"},"legend":{"color":"independent","fill":"independent"}}},
   {"hconcat":[
     {"hconcat":[
       {"width":144,"height":422,
        "title":{"text":"C","dx":-77,"dy":29},
        "data":{"values":[{"status":"Human−biased, Active","pct":11.0,"label":"11%"},{"status":"Human, Active","pct":21.7,"label":"21%"},{"status":"Inactive","pct":67.3,"label":"67%"}]},
        "encoding":{
         "theta":{"field":"pct","type":"quantitative","stack":true},
         "order":{"field":"pct","sort":"ascending"},
         "color":{"field":"status","type":"nominal","scale":{"domain":["Human−biased, Active","Human, Active","Inactive"],"range":["#1f78b4","#a6cee3","#cccccc"]},"legend":null}
        },
        "layer":[
         {"mark":{"type":"arc","radius":114.5}},
         {"mark":{"type":"text","radius":58,"fontSize":19},"encoding":{"text":{"field":"label"},"color":{"value":"#ffffff"}}}
        ]},
       {"width":228,"height":339,
        "title":{"text":"D","dx":-64,"dy":29},
        "data":{"name":"histD"},
        "encoding":{
         "x":{"field":"x0","type":"quantitative","bin":"binned","scale":{"domain":[-0.44,1.267],"nice":false,"zero":false},"axis":{"values":[-0.4,0,0.4,0.8,1.2],"format":".1f","labelPadding":9,"titlePadding":5,"titleLineHeight":18,"titleAlign":"right","titleX":157,"title":["RNA","log\u2082 \u2014\u2014","DNA"]}},
         "x2":{"field":"x1"},
         "y":{"field":"n","type":"quantitative","stack":"zero","scale":{"domain":[-6.8,142.8],"nice":false,"zero":false},"axis":{"values":[0,50,100],"title":"# HARs","labelPadding":10,"titlePadding":8}},
         "color":{"field":"status","type":"nominal","scale":{"domain":["Chimpanzee, Active","Chimpanzee−biased, Active","Human, Active","Human−biased, Active","Inactive"],"range":["#b2df8a","#33a02c","#a6cee3","#1f78b4","#cccccc"]},"legend":null}
        },
        "layer":[
         {"transform":[{"filter":"datum.x1 <= 0"}],"mark":{"type":"bar","orient":"vertical"},"encoding":{"order":{"field":"status","sort":"ascending"}}},
         {"transform":[{"filter":"datum.x0 >= 0"}],"mark":{"type":"bar","orient":"vertical"},"encoding":{"order":{"field":"status","sort":"descending"}}}
        ]}
     ],"spacing":45.5,"resolve":{"scale":{"x":"independent","y":"independent","color":"independent","theta":"independent"}}},
     {"hconcat":[
       {"width":276,"height":422,
        "title":{"text":"E","dx":-10,"dy":29},
        "data":{"values":[{"status":"Chimpanzee−biased, Active","pct":13.6,"label":"14%"},{"status":"Chimpanzee, Active","pct":20.8,"label":"21%"},{"status":"Inactive","pct":65.6,"label":"65%"}]},
        "encoding":{
         "theta":{"field":"pct","type":"quantitative","stack":true},
         "order":{"field":"pct","sort":"ascending"},
         "color":{"field":"status","type":"nominal","scale":{"domain":["Chimpanzee−biased, Active","Chimpanzee, Active","Inactive"],"range":["#33a02c","#b2df8a","#cccccc"]},"legend":null}
        },
        "layer":[
         {"mark":{"type":"arc","radius":114.5}},
         {"mark":{"type":"text","radius":58,"fontSize":19},"encoding":{"text":{"field":"label"},"color":{"value":"#ffffff"}}}
        ]},
       {"width":227,"height":339,
        "title":{"text":"F","dx":-65.5,"dy":29},
        "data":{"name":"histF"},
        "encoding":{
         "x":{"field":"x0","type":"quantitative","bin":"binned","scale":{"domain":[-0.561,1.617],"nice":false,"zero":false},"axis":{"values":[-0.5,0,0.5,1,1.5],"format":".1f","labelPadding":9,"titlePadding":5,"titleLineHeight":18,"titleAlign":"right","titleX":157.5,"title":["RNA","log\u2082 \u2014\u2014","DNA"]}},
         "x2":{"field":"x1"},
         "y":{"field":"n","type":"quantitative","stack":"zero","scale":{"domain":[-9,189],"nice":false,"zero":false},"axis":{"values":[0,50,100,150],"title":"# HARs","labelPadding":10,"titlePadding":8}},
         "color":{"field":"status","type":"nominal","scale":{"domain":["Chimpanzee, Active","Chimpanzee−biased, Active","Human, Active","Human−biased, Active","Inactive"],"range":["#b2df8a","#33a02c","#a6cee3","#1f78b4","#cccccc"]},"legend":null}
        },
        "layer":[
         {"transform":[{"filter":"datum.x1 <= 0"}],"mark":{"type":"bar","orient":"vertical"},"encoding":{"order":{"field":"status","sort":"ascending"}}},
         {"transform":[{"filter":"datum.x0 >= 0"}],"mark":{"type":"bar","orient":"vertical"},"encoding":{"order":{"field":"status","sort":"descending"}}}
        ]}
     ],"spacing":24,"resolve":{"scale":{"x":"independent","y":"independent","color":"independent","theta":"independent"}}}
   ],"spacing":17,"resolve":{"scale":{"x":"independent","y":"independent","color":"independent","theta":"independent"}}}
 ],"spacing":20,"resolve":{"scale":{"x":"independent","y":"independent","color":"independent","fill":"independent","theta":"independent"},"legend":{"color":"independent","fill":"independent"}}},
 {"hconcat":[
   {"width":1150,"height":339,
    "title":{"text":"G","dx":-77,"dy":-6},
    "encoding":{
     "x":{"field":"u","type":"quantitative","scale":{"domain":[0.409,3.599],"nice":false,"zero":false},"axis":{"values":[1,2,3],"labelExpr":"datum.value == 1 ? 'GO:MF' : datum.value == 2 ? 'GO:BP' : 'GO:CC'","title":"Ontology","labelPadding":10,"titlePadding":5}},
     "y":{"field":"v","type":"quantitative","scale":{"domain":[0.843,13.13],"nice":false,"zero":false},"axis":{"values":[2.5,5,7.5,10,12.5],"format":".1f","title":"−log\u2081\u2080 Adjusted p−value","labelPadding":13,"titlePadding":10}}
    },
    "layer":[
     {"data":{"name":"goSegs"},"mark":{"type":"rule","color":"#a0a0a0","strokeWidth":1.5},"encoding":{"x2":{"field":"u2"},"y2":{"field":"v2"}}},
     {"data":{"name":"goTerms"},"mark":{"type":"square","size":45},
      "encoding":{
       "color":{"field":"ont","type":"nominal","scale":{"domain":["GO:MF","GO:BP","GO:CC"],"range":["#e41a1c","#ff7f00","#4daf4a"]},"legend":null},
       "opacity":{"field":"hl","type":"nominal","scale":{"domain":["yes","no"],"range":[1,0.3]},"legend":null}
      }},
     {"data":{"name":"goLabels"},"mark":{"type":"text","fontSize":21,"align":"center","baseline":"middle","color":"#000000"},"encoding":{"text":{"field":"term"}}}
    ]}
 ],"title":{"text":"GO Enrichment, MPRA Active HARs vs. N2 ATAC−seq Peaks","fontWeight":"normal","fontSize":22,"dx":-2,"dy":27},"resolve":{"scale":{"x":"independent","y":"independent","color":"independent","opacity":"independent"}}}
]
}
